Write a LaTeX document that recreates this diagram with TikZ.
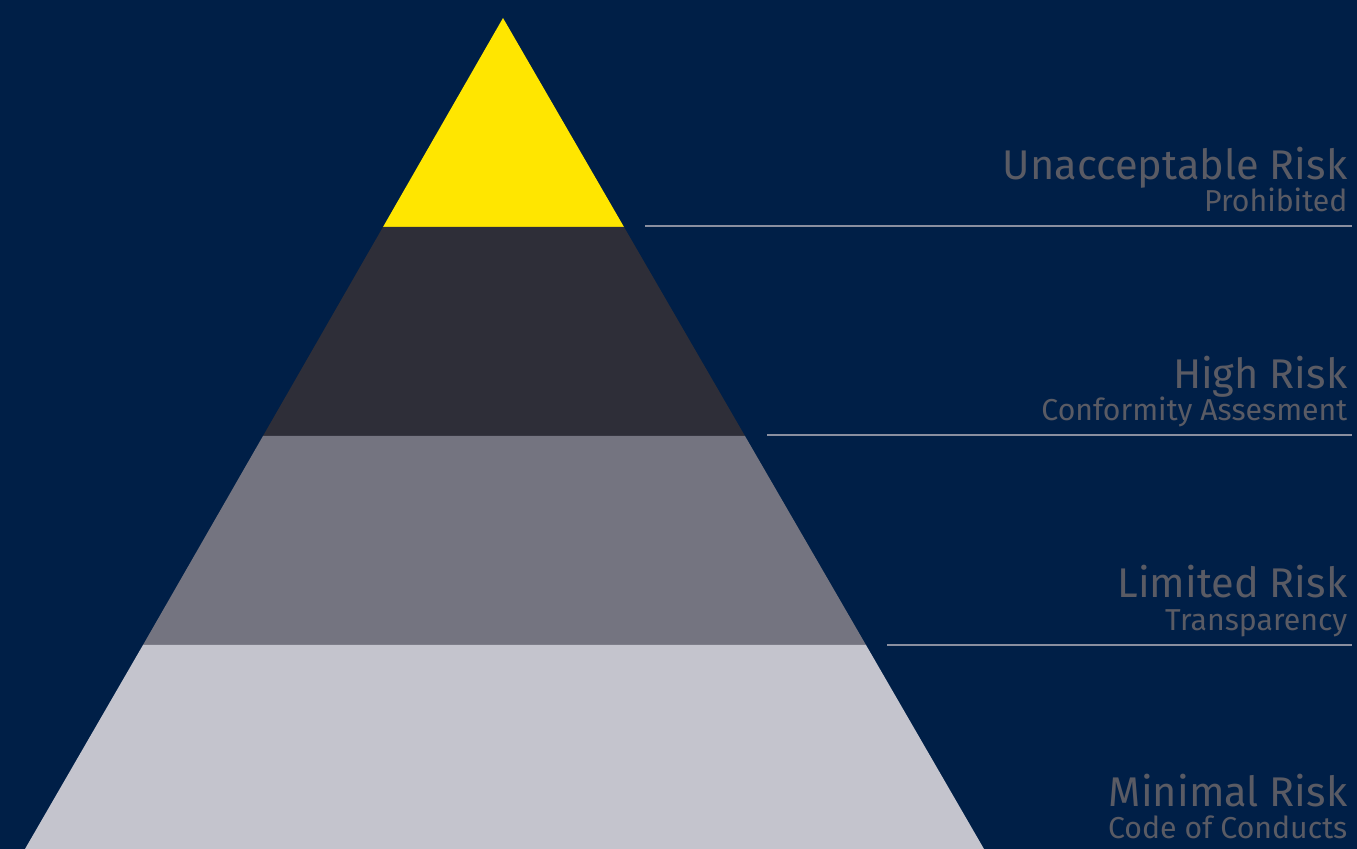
\documentclass[tikz,border=0pt]{standalone}
\usepackage{fontspec}
\setmainfont{Fira Sans}
\usetikzlibrary{positioning}

\definecolor{eynavy}{HTML}{001F47}
\definecolor{eyyellow}{HTML}{FFE600}
\definecolor{eydark}{HTML}{2E2E38}
\definecolor{eygrey}{HTML}{747480}
\definecolor{eylight}{HTML}{C4C4CD}
\definecolor{eytext}{HTML}{5A5B64}
\definecolor{eyrule}{HTML}{8A8FA0}

\tikzset{
    tiertitle/.style={anchor=base east, inner sep=0pt, text=eytext, font=\fontsize{11.8}{14}\selectfont},
    tiersub/.style={anchor=base east, inner sep=0pt, text=eytext, font=\fontsize{8.6}{11}\selectfont},
    divider/.style={draw=eyrule, line width=0.6pt}
}

\begin{document}
\begin{tikzpicture}[x=0.01cm, y=-0.01cm]
        % Background
        \fill[eynavy] (0,0) rectangle (1357,849);
        \useasboundingbox (0,0) rectangle (1357,849);

        % Define tiers
        \coordinate (apex) at (503,18);
        \fill[eyyellow] (apex) -- (624,227) -- (383,227) -- cycle;
        \fill[eydark] (383,227) -- (624,227) -- (745,436) -- (263,436) -- cycle;
        \fill[eygrey] (263,436) -- (745,436) -- (866,645) -- (143,645) -- cycle;
        \fill[eylight] (143,645) -- (866,645) -- (984,849) -- (25,849) -- cycle;

        % Dividers
        \coordinate (d1s) at (645,226);
        \coordinate (d1e) at (1352,226);
        \coordinate (d2s) at (767,435);
        \coordinate (d2e) at (1352,435);
        \coordinate (d3s) at (887,645);
        \coordinate (d3e) at (1352,645);
        \draw[divider] (d1s) -- (d1e);
        \draw[divider] (d2s) -- (d2e);
        \draw[divider] (d3s) -- (d3e);

        % Labels
        \node[tiertitle] (unacc) at (1348,180) {Unacceptable Risk};
        \node[tiersub]   (prohib) at (1348,212) {Prohibited};
        \node[tiertitle] (high) at (1348,389) {High Risk};
        \node[tiersub]   (conform) at (1348,421) {Conformity Assesment};
        \node[tiertitle] (limited) at (1348,598) {Limited Risk};
        \node[tiersub]   (transp) at (1348,630) {Transparency};
        \node[tiertitle] (minimal) at (1348,807) {Minimal Risk};
        \node[tiersub]   (code) at (1348,838) {Code of Conducts};

    \end{tikzpicture}
\end{document}
